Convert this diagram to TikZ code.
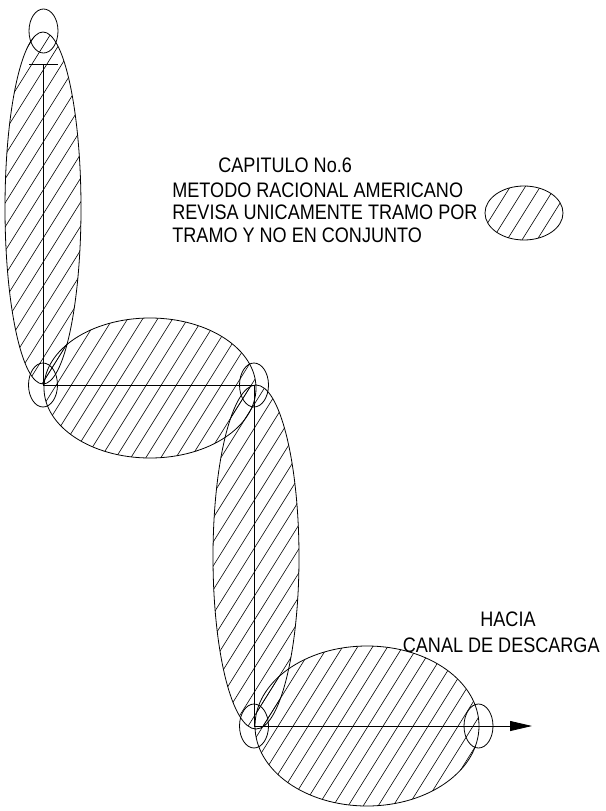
\documentclass[tikz,border=0pt]{standalone}
\usepackage{fontspec}
\usepackage{graphicx}
\setmainfont{Liberation Sans}
\usepackage{tikz}
\usetikzlibrary{arrows.meta}

\newcommand{\cadtext}[1]{\scalebox{0.86}[1]{#1}}
\newcommand{\hatchlines}{%
  \foreach \h in {-540,-525,...,620} \draw[hatch] (\h,811) -- ++(507,-811);}

\begin{document}
\begin{tikzpicture}[x=1pt, y=-1pt, line width=0.8pt,
  zone/.style={draw, line width=0.8pt},
  hatch/.style={line width=0.6pt},
  joint/.style={draw, line width=0.8pt},
  flow/.style={draw, line width=0.8pt},
  cadlabel/.style={font=\fontsize{21}{25}\selectfont, inner sep=0pt, anchor=base west}
]
  \useasboundingbox (0,0) rectangle (605,811);
  % ===== hatched zones (tramos) and legend =====
  \foreach \cx/\cy/\rx/\ry in {43/208/38/176, 150/388/106/70, 256/557/43/172,
                               367/726/112/80, 524/213/39/27} {
    \begin{scope}
      \clip (\cx,\cy) ellipse [x radius=\rx, y radius=\ry];
      \hatchlines
    \end{scope}
    \draw[zone] (\cx,\cy) ellipse [x radius=\rx, y radius=\ry];
  }
  % ===== flow path =====
  \coordinate (top)    at (43,64);
  \coordinate (tickL)  at (29,64);
  \coordinate (tickR)  at (58,64);
  \coordinate (bend1)  at (43,385);
  \coordinate (bend2)  at (254,385);
  \coordinate (bend3)  at (254,726);
  \coordinate (outlet) at (532,726);
  \draw[flow] (tickL) -- (tickR);
  \draw[flow] (top) -- (bend1) -- (bend2) -- (bend3);
  \draw[flow, -{Triangle[length=22pt, width=10pt]}] (bend3) -- (outlet);
  % ===== joints =====
  \foreach \p in {(43.5,31), (bend1), (bend2), (bend3), (478.5,726)}
    \draw[joint] \p ellipse [x radius=14.5, y radius=22];
  % ===== labels =====
  \node[cadlabel] (cap)   at (218,172) {\cadtext{CAPITULO No.6}};
  \node[cadlabel] (line1) at (172,197) {\cadtext{METODO RACIONAL AMERICANO}};
  \node[cadlabel] (line2) at (172,219) {\cadtext{REVISA UNICAMENTE TRAMO POR}};
  \node[cadlabel] (line3) at (172,242) {\cadtext{TRAMO Y NO EN CONJUNTO}};
  \node[cadlabel] (hacia) at (480,626) {\cadtext{HACIA}};
  \node[cadlabel, anchor=base east] (canal) at (600,652) {\cadtext{CANAL DE DESCARGA}};
\end{tikzpicture}
\end{document}
